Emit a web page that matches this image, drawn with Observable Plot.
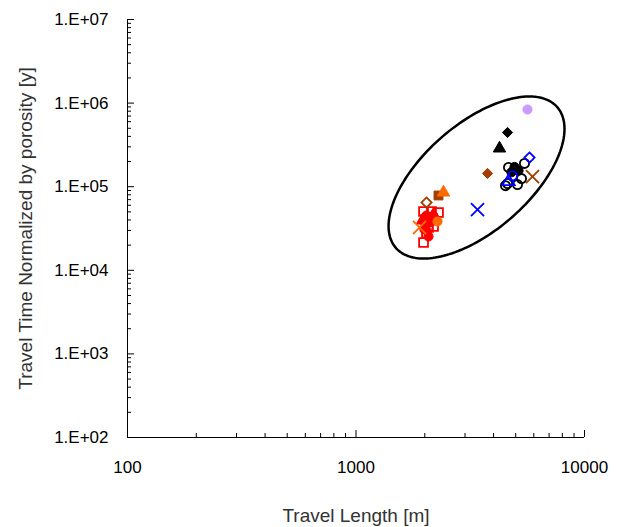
<!DOCTYPE html>
<html><head><meta charset="utf-8">
<script src="https://cdn.jsdelivr.net/npm/d3@7"></script>
<script src="https://cdn.jsdelivr.net/npm/@observablehq/plot@0.6"></script>
<style>body{margin:0;background:#fff}</style>
</head><body><div id="chart"></div>
<script>
// ---- axis ticks & labels ----
const xTicks = [100, 1000, 10000];
const xTickLabels = ["100", "1000", "10000"];
const yTicks = [1e2, 1e3, 1e4, 1e5, 1e6, 1e7];
const yTickLabels = ["1.E+02", "1.E+03", "1.E+04", "1.E+05", "1.E+06", "1.E+07"];
const xTitle = "Travel Length [m]";
const yTitle = "Travel Time Normalized by porosity [y]";

// ---- series data (travel length [m], normalized travel time [y]) ----
const redOpenSquareX = [1975, 2140, 2296, 2014, 2162, 2076, 2035, 1975, 2184];
const redOpenSquareY = [5.05e4, 5.05e4, 4.91e4, 4.05e4, 4.17e4, 3.25e4, 2.75e4, 2.15e4, 3.34e4];
const redFilledCircleX = [2035, 2119, 1994, 2076, 2160];
const redFilledCircleY = [4.52e4, 3.73e4, 3.08e4, 2.54e4, 4.3e4];
const redFilledTriangleX = [1954, 2184];
const redFilledTriangleY = [3.94e4, 4.65e4];
const orangeFilledCircleX = [2273];
const orangeFilledCircleY = [3.83e4];
const orangeCrossX = [1897];
const orangeCrossY = [3.25e4];
const orangeFilledTriangleX = [2415];
const orangeFilledTriangleY = [8.53e4];
const brownFilledSquareX = [2296];
const brownFilledSquareY = [7.85e4];
const brownOpenDiamondX = [2035];
const brownOpenDiamondY = [6.47e4];
const brownFilledDiamondX = [3764];
const brownFilledDiamondY = [1.44e5];
const brownCrossX = [5920];
const brownCrossY = [1.32e5];
const blackFilledDiamondX = [4603];
const blackFilledDiamondY = [4.45e5];
const blackFilledTriangleX = [4246];
const blackFilledTriangleY = [2.87e5];
const blackFilledCircleX = [4940, 5143, 4790];
const blackFilledCircleY = [1.72e5, 1.56e5, 1.49e5];
const blackOpenCircleX = [4650, 5462, 5300, 4603, 5091, 4510];
const blackOpenCircleY = [1.70e5, 1.90e5, 1.25e5, 1.09e5, 1.06e5, 1.03e5];
const blueOpenDiamondX = [5745];
const blueOpenDiamondY = [2.23e5];
const blueCrossX = [3402];
const blueCrossY = [5.33e4];
const blueOpenCircleX = [4840];
const blueOpenCircleY = [1.35e5];
const blueOpenTriangleX = [4650];
const blueOpenTriangleY = [1.15e5];
const purpleFilledCircleX = [5630];
const purpleFilledCircleY = [8.38e5];

// ---- enclosing ellipse (centre, half-spans in decades, phase cosine) ----
const ellipseCenter = [3369, 1.288e5];
const ellipseSpan = [0.385, 0.969];
const ellipsePhaseCos = -0.6;

// ---- styles ----
const RED = "#ff0000", ORANGE = "#ff6a00", BROWN = "#a33d00", BLACK = "#000000", BLUE = "#0000ff", PURPLE = "#cc99ff";
const series = [
  {x: redOpenSquareX, y: redOpenSquareY, symbol: "square", color: RED, filled: false},
  {x: redFilledCircleX, y: redFilledCircleY, symbol: "circle", color: RED, filled: true},
  {x: redFilledTriangleX, y: redFilledTriangleY, symbol: "triangle", color: RED, filled: true},
  {x: orangeFilledCircleX, y: orangeFilledCircleY, symbol: "circle", color: ORANGE, filled: true},
  {x: orangeCrossX, y: orangeCrossY, symbol: "times", color: ORANGE, filled: false},
  {x: brownFilledSquareX, y: brownFilledSquareY, symbol: "square", color: BROWN, filled: true},
  {x: orangeFilledTriangleX, y: orangeFilledTriangleY, symbol: "triangle", color: ORANGE, filled: true},
  {x: brownOpenDiamondX, y: brownOpenDiamondY, symbol: "diamond2", color: BROWN, filled: false},
  {x: brownFilledDiamondX, y: brownFilledDiamondY, symbol: "diamond2", color: BROWN, filled: true},
  {x: brownCrossX, y: brownCrossY, symbol: "times", color: BROWN, filled: false},
  {x: blackFilledDiamondX, y: blackFilledDiamondY, symbol: "diamond2", color: BLACK, filled: true},
  {x: blackFilledTriangleX, y: blackFilledTriangleY, symbol: "triangle", color: BLACK, filled: true},
  {x: blackOpenCircleX, y: blackOpenCircleY, symbol: "circle", color: BLACK, filled: false},
  {x: blackFilledCircleX, y: blackFilledCircleY, symbol: "circle", color: BLACK, filled: true},
  {x: blueOpenDiamondX, y: blueOpenDiamondY, symbol: "diamond2", color: BLUE, filled: false},
  {x: blueCrossX, y: blueCrossY, symbol: "times", color: BLUE, filled: false},
  {x: blueOpenCircleX, y: blueOpenCircleY, symbol: "circle", color: BLUE, filled: false},
  {x: blueOpenTriangleX, y: blueOpenTriangleY, symbol: "triangle", color: BLUE, filled: false},
  {x: purpleFilledCircleX, y: purpleFilledCircleY, symbol: "circle", color: PURPLE, filled: true}
];

const minorX = [], minorY = [];
for (let e = 2; e < 4; e++) for (let m = 2; m < 10; m++) minorX.push(m * 10 ** e);
for (let e = 2; e < 7; e++) for (let m = 2; m < 10; m++) minorY.push(m * 10 ** e);

const phi = Math.acos(ellipsePhaseCos);
const ellipsePts = d3.range(0, 361, 2).map(a => {
  const t = a * Math.PI / 180;
  return {
    x: 10 ** (Math.log10(ellipseCenter[0]) + ellipseSpan[0] * Math.cos(t)),
    y: 10 ** (Math.log10(ellipseCenter[1]) - ellipseSpan[1] * Math.cos(t - phi))
  };
});

const dotMarks = series.map(s => {
  const rows = s.x.map((v, i) => ({x: v, y: s.y[i]}));
  const r = s.symbol === "times" ? 6 : (s.symbol === "square" ? 5 : 4.6);
  return Plot.dot(rows, {
    x: "x", y: "y", symbol: () => s.symbol, r,
    fill: s.filled ? s.color : "none",
    stroke: s.color,
    strokeWidth: s.filled ? 1 : 1.8
  });
});

const chart = Plot.plot({
  width: 629, height: 527,
  marginLeft: 127, marginRight: 45, marginTop: 19, marginBottom: 90,
  x: {type: "log", domain: [100, 10000]},
  y: {type: "log", domain: [100, 1e7]},
  symbol: {type: "identity"},
  style: {fontFamily: "'Liberation Sans', Arial, sans-serif", fontSize: "17px", color: "#000", background: "#fff", overflow: "visible"},
  marks: [
    Plot.axisX(xTicks, {tickSize: 0, tickPadding: 23, tickFormat: d => xTickLabels[xTicks.indexOf(d)], label: null}),
    Plot.axisX(xTicks, {tickSize: -7, tickFormat: () => "", label: null}),
    Plot.axisX(minorX, {tickSize: -4, tickFormat: () => "", label: null}),
    Plot.axisY(yTicks, {tickSize: 0, tickPadding: 19, tickFormat: d => yTickLabels[yTicks.indexOf(d)], label: null}),
    Plot.axisY(yTicks, {tickSize: -7, tickFormat: () => "", label: null}),
    Plot.axisY(minorY, {tickSize: -4, tickFormat: () => "", label: null}),
    Plot.ruleX([100], {stroke: "#000"}),
    Plot.ruleY([100], {stroke: "#000"}),
    Plot.line(ellipsePts, {x: "x", y: "y", stroke: "#000", strokeWidth: 2.5, curve: "linear"}),
    ...dotMarks,
    Plot.text([xTitle], {text: d => d, frameAnchor: "bottom", lineAnchor: "middle", dy: 78, fontSize: 19, fill: "#333"}),
    Plot.text([yTitle], {text: d => d, frameAnchor: "left", textAnchor: "middle", lineAnchor: "middle", dx: -102, rotate: -90, fontSize: 19, fill: "#333"})
  ]
});
document.getElementById("chart").appendChild(chart);
</script>
</body></html>
